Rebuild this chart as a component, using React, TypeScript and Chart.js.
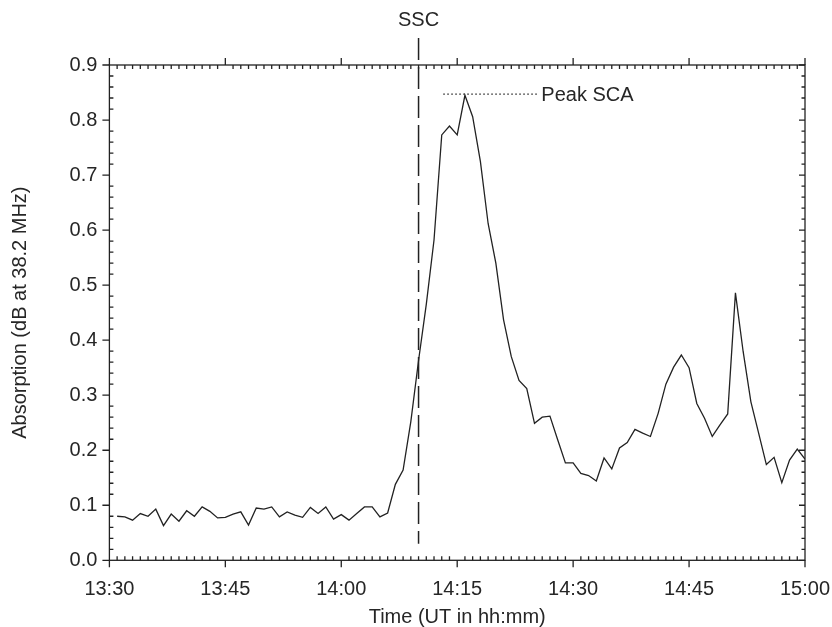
import { useEffect, useRef } from "react";
import { Chart, registerables } from "chart.js";

Chart.register(...registerables);

// Minutes after 13:30 UT
const minutes = [
  1, 2, 3, 4, 5, 6, 7, 8, 9, 10, 11, 12, 13, 14, 15, 16, 17, 18, 19, 20,
  21, 22, 23, 24, 25, 26, 27, 28, 29, 30, 31, 32, 33, 34, 35, 36, 37, 38, 39, 40,
  41, 42, 43, 44, 45, 46, 47, 48, 49, 50, 51, 52, 53, 54, 55, 56, 57, 58, 59, 60,
  61, 62, 63, 64, 65, 66, 67, 68, 69, 70, 71, 72, 73, 74, 75, 76, 77, 78, 79, 80,
  81, 82, 83, 84, 85, 86, 87, 88, 89, 90,
];

// Absorption (dB at 38.2 MHz)
const absorption = [
  0.080, 0.079, 0.073, 0.085, 0.080, 0.093, 0.063, 0.084, 0.071, 0.090,
  0.080, 0.097, 0.089, 0.077, 0.078, 0.084, 0.088, 0.064, 0.095, 0.093,
  0.097, 0.079, 0.088, 0.082, 0.078, 0.096, 0.085, 0.097, 0.075, 0.083,
  0.073, 0.085, 0.097, 0.097, 0.079, 0.086, 0.138, 0.164, 0.252, 0.363,
  0.465, 0.582, 0.773, 0.789, 0.773, 0.845, 0.806, 0.725, 0.612, 0.540,
  0.437, 0.370, 0.327, 0.312, 0.249, 0.260, 0.262, 0.219, 0.177, 0.177,
  0.158, 0.154, 0.144, 0.186, 0.166, 0.204, 0.214, 0.238, 0.231, 0.225,
  0.267, 0.320, 0.351, 0.373, 0.350, 0.285, 0.258, 0.225, 0.246, 0.266,
  0.486, 0.379, 0.288, 0.231, 0.174, 0.187, 0.141, 0.182, 0.202, 0.184,
];

const xTickLabels = ["13:30", "13:45", "14:00", "14:15", "14:30", "14:45", "15:00"];
const yTickLabels = ["0.0", "0.1", "0.2", "0.3", "0.4", "0.5", "0.6", "0.7", "0.8", "0.9"];

const xTitle = "Time (UT in hh:mm)";
const yTitle = "Absorption (dB at 38.2 MHz)";

const sscMinute = [40];
const sscLabel = "SSC";
const sscLowValue = [0.03];

const peakValue = [0.847];
const peakLineMinutes = [43.2, 55.5];
const peakLabel = "Peak SCA";

const FONT = "'Liberation Sans', Arial, Helvetica, sans-serif";
const INK = "#222";
const TEXT = "#262626";

const decorPlugin = {
  id: "decor",
  afterDraw(chart: any) {
    const { ctx, chartArea: a, scales } = chart;
    const x = scales.x;
    const y = scales.y;
    ctx.save();
    ctx.strokeStyle = INK;
    ctx.lineWidth = 1.3;
    ctx.setLineDash([]);
    ctx.strokeRect(a.left, a.top, a.right - a.left, a.bottom - a.top);

    // x ticks (every minute, major every 15)
    ctx.beginPath();
    for (let m = 0; m <= 90; m++) {
      const px = x.getPixelForValue(m);
      if (m % 15 === 0) {
        ctx.moveTo(px, a.bottom);
        ctx.lineTo(px, a.bottom + 7);
        ctx.moveTo(px, a.top);
        ctx.lineTo(px, a.top - 7);
      } else {
        ctx.moveTo(px, a.bottom);
        ctx.lineTo(px, a.bottom - 4);
        ctx.moveTo(px, a.top);
        ctx.lineTo(px, a.top + 4);
      }
    }
    // y ticks (every 0.02, major every 0.1)
    for (let k = 0; k <= 45; k++) {
      const py = y.getPixelForValue(k * 0.02);
      if (k % 5 === 0) {
        ctx.moveTo(a.left, py);
        ctx.lineTo(a.left - 7, py);
        ctx.moveTo(a.right, py);
        ctx.lineTo(a.right - 6, py);
      } else {
        ctx.moveTo(a.left, py);
        ctx.lineTo(a.left + 4, py);
        ctx.moveTo(a.right, py);
        ctx.lineTo(a.right - 3.5, py);
      }
    }
    ctx.stroke();

    // SSC dashed line
    const sx = x.getPixelForValue(sscMinute[0]);
    ctx.beginPath();
    ctx.lineWidth = 1.5;
    ctx.setLineDash([22, 7]);
    ctx.moveTo(sx, 38);
    ctx.lineTo(sx, y.getPixelForValue(sscLowValue[0]));
    ctx.stroke();

    ctx.fillStyle = TEXT;
    ctx.font = `20px ${FONT}`;
    ctx.textAlign = "center";
    ctx.textBaseline = "middle";
    ctx.fillText(sscLabel, sx, 20);

    // Peak SCA dotted line
    const py = y.getPixelForValue(peakValue[0]);
    ctx.beginPath();
    ctx.lineWidth = 1.2;
    ctx.setLineDash([1.5, 2.5]);
    ctx.moveTo(x.getPixelForValue(peakLineMinutes[0]), py);
    ctx.lineTo(x.getPixelForValue(peakLineMinutes[1]), py);
    ctx.stroke();
    ctx.setLineDash([]);
    ctx.textAlign = "left";
    ctx.fillText(peakLabel, x.getPixelForValue(peakLineMinutes[1]) + 3, py + 1);
    ctx.restore();
  },
};

export default function App() {
  const ref = useRef<HTMLCanvasElement | null>(null);
  useEffect(() => {
    if (!ref.current) return;
    const chart = new Chart(ref.current, {
      type: "line",
      data: {
        datasets: [
          {
            data: minutes.map((m, i) => ({ x: m, y: absorption[i] })),
            borderColor: INK,
            borderWidth: 1.3,
            pointRadius: 0,
            tension: 0,
            fill: false,
          },
        ],
      },
      options: {
        responsive: false,
        animation: false,
        devicePixelRatio: 1,
        layout: { padding: { top: 65, right: 27, left: 0, bottom: 0 } },
        plugins: { legend: { display: false }, tooltip: { enabled: false } },
        scales: {
          x: {
            type: "linear",
            min: 0,
            max: 90,
            grid: { display: false, drawTicks: false },
            border: { display: false },
            ticks: {
              stepSize: 15,
              padding: 17,
              color: TEXT,
              font: { family: FONT, size: 20 },
              callback: (v: any) => xTickLabels[Math.round(Number(v) / 15)] ?? "",
              maxRotation: 0,
            },
            title: {
              display: true,
              text: xTitle,
              color: TEXT,
              font: { family: FONT, size: 20, lineHeight: 1 },
              padding: { top: 0, bottom: 0 },
            },
            afterFit: (s: any) => {
              s.height = 66.7;
              s.paddingLeft = 0;
              s.paddingRight = 0;
            },
          },
          y: {
            type: "linear",
            min: 0,
            max: 0.9,
            grid: { display: false, drawTicks: false },
            border: { display: false },
            ticks: {
              stepSize: 0.1,
              padding: 12,
              color: TEXT,
              font: { family: FONT, size: 20 },
              callback: (v: any) => yTickLabels[Math.round(Number(v) * 10)] ?? "",
            },
            title: {
              display: true,
              text: yTitle,
              color: TEXT,
              font: { family: FONT, size: 20, lineHeight: 1.2 },
              padding: { top: 8, bottom: 0 },
            },
            afterFit: (s: any) => {
              s.width = 109.4;
              s.paddingTop = 0;
              s.paddingBottom = 0;
            },
          },
        },
      },
      plugins: [decorPlugin],
    });
    return () => chart.destroy();
  }, []);

  return (
    <div style={{ position: "fixed", left: 0, top: 0, width: 832, height: 627, background: "#fff" }}>
      <canvas ref={ref} width={832} height={627} style={{ display: "block" }} />
    </div>
  );
}
